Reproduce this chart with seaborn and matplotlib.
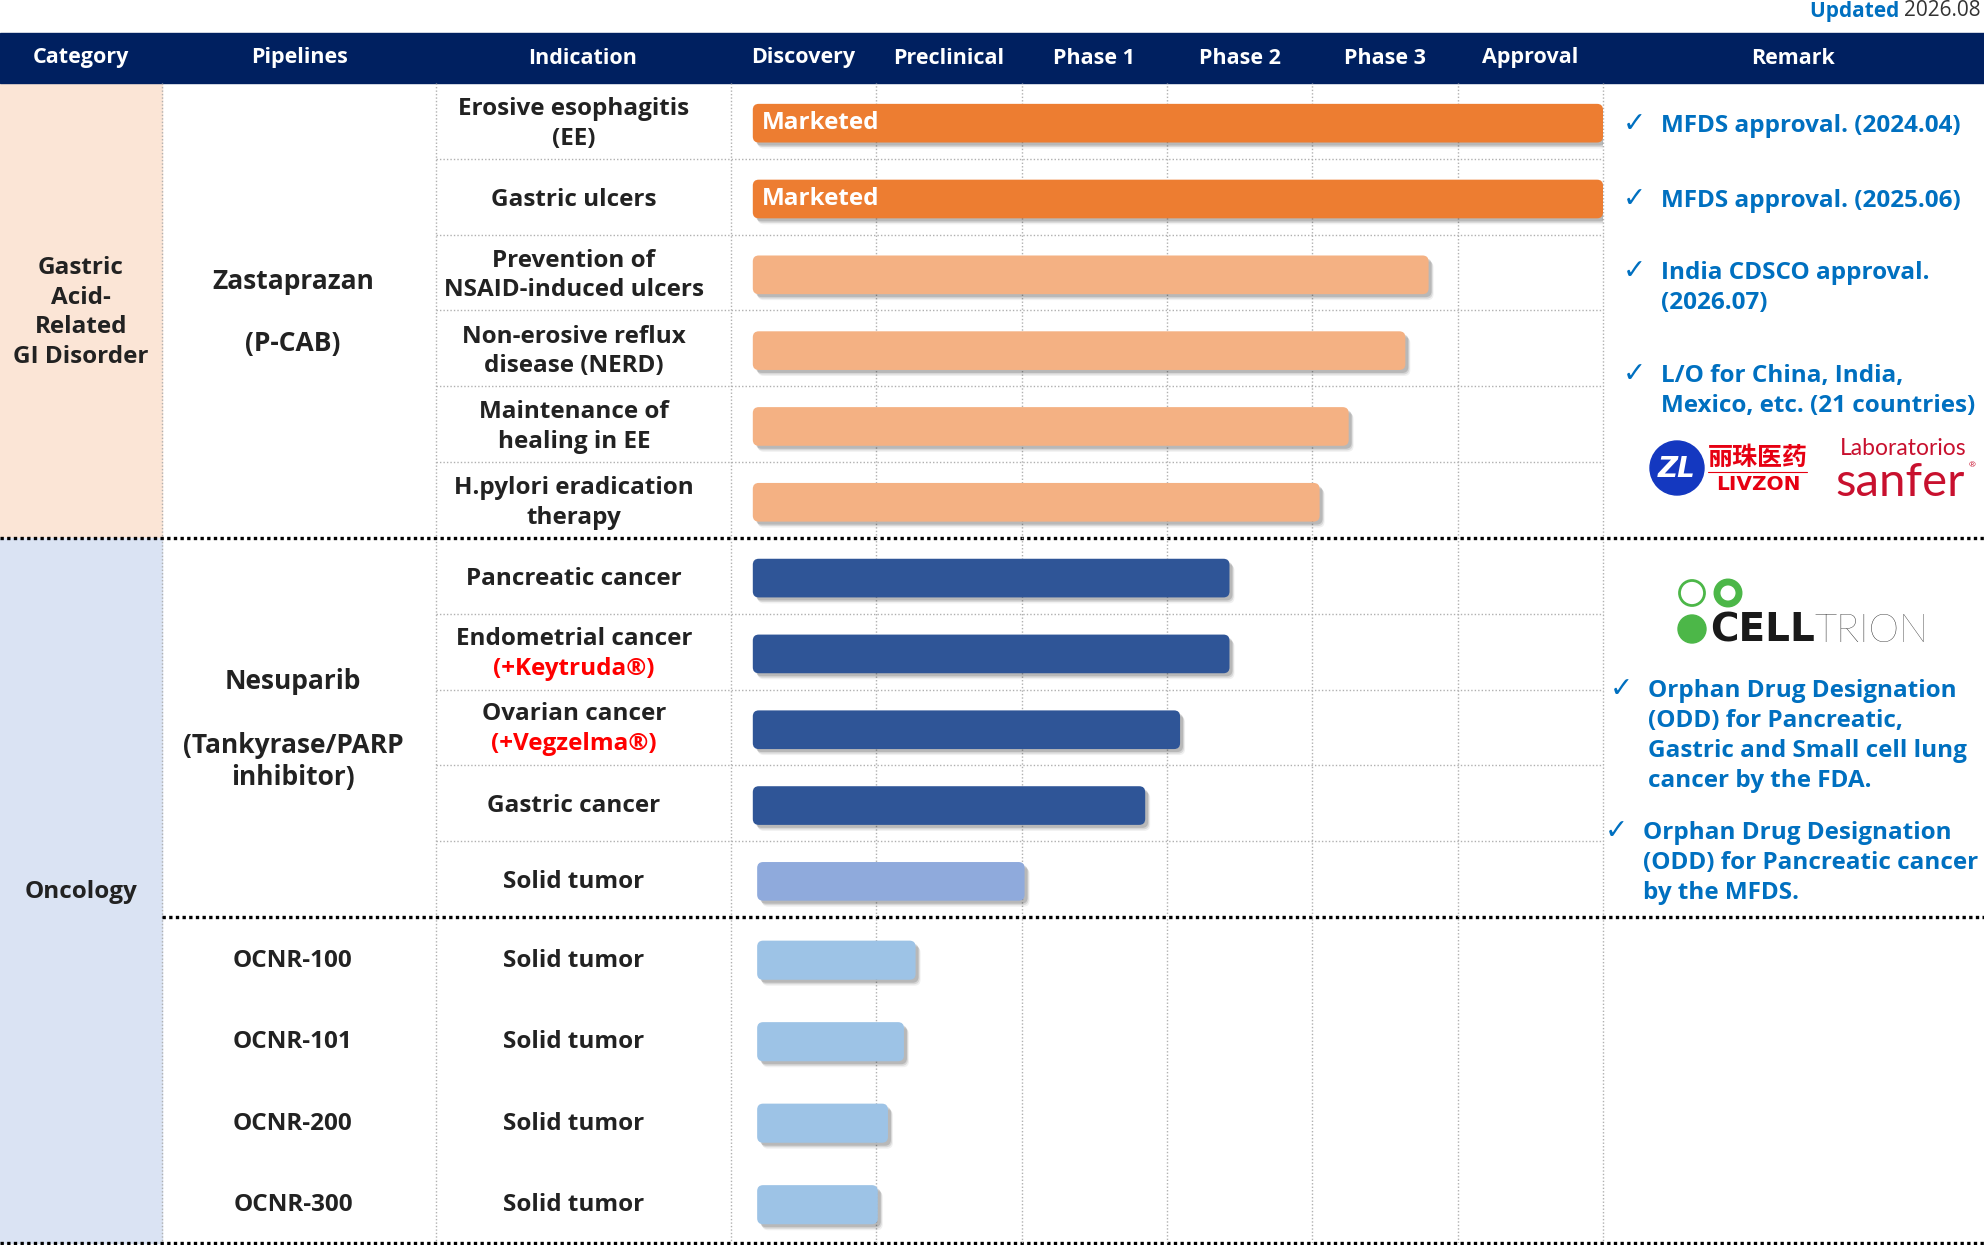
import matplotlib
matplotlib.use("Agg")
import matplotlib.pyplot as plt
import matplotlib.transforms as mtransforms
from matplotlib.patches import FancyBboxPatch, Rectangle, Circle
import seaborn as sns
import pandas as pd

# ---------------- data ----------------
phases = ["Discovery", "Preclinical", "Phase 1", "Phase 2", "Phase 3", "Approval"]

upper_rows = ["EE", "GU", "NSAID", "NERD", "MAINT", "HP", "PANC", "ENDO", "OVAR", "GAST", "SOLID"]
upper_indication = ["Erosive esophagitis\n(EE)", "Gastric ulcers", "Prevention of\nNSAID-induced ulcers",
                    "Non-erosive reflux\ndisease (NERD)", "Maintenance of\nhealing in EE",
                    "H.pylori eradication\ntherapy", "Pancreatic cancer", "Endometrial cancer",
                    "Ovarian cancer", "Gastric cancer", "Solid tumor"]
combo_drug = ["", "", "", "", "", "", "", "(+Keytruda®)", "(+Vegzelma®)", "", ""]
upper_start = [0.15, 0.15, 0.15, 0.15, 0.15, 0.15, 0.15, 0.15, 0.15, 0.15, 0.18]
upper_end = [6.0, 6.0, 4.80, 4.64, 4.25, 4.05, 3.43, 3.43, 3.09, 2.85, 2.02]
upper_color = ["#ED7D31", "#ED7D31", "#F4B183", "#F4B183", "#F4B183", "#F4B183",
               "#2F5597", "#2F5597", "#2F5597", "#2F5597", "#8FAADC"]
upper_note = ["Marketed", "Marketed", "", "", "", "", "", "", "", "", ""]

ocnr_names = ["OCNR-100", "OCNR-101", "OCNR-200", "OCNR-300"]
ocnr_indication = ["Solid tumor", "Solid tumor", "Solid tumor", "Solid tumor"]
ocnr_start = [0.18, 0.18, 0.18, 0.18]
ocnr_end = [1.27, 1.19, 1.08, 1.01]
ocnr_color = "#9DC3E6"

# ---------------- style ----------------
sns.set_theme(style="white")
plt.rcParams['font.family'] = ['Open Sans', 'Noto Sans CJK SC', 'DejaVu Sans']

NAVY = "#002060"
BLUE = "#0070C0"
INK = "#222222"
GRID = "#B0B0B0"
FS = 17.5

W, H = 1984, 1245
X_PIPE, X_IND, X_PH0, X_PH1 = 162, 436, 731, 1603
Y_HEAD0, Y_HEAD1 = 33, 83
Y_SPLIT2, Y_END = 917, 1243
row_h = (Y_SPLIT2 - Y_HEAD1) / len(upper_rows)
Y_SPLIT1 = Y_HEAD1 + 6 * row_h
ocnr_h = (Y_END - Y_SPLIT2) / len(ocnr_names)

fig = plt.figure(figsize=(W / 100, H / 100), dpi=100)
bg = fig.add_axes([0, 0, 1, 1])
bg.set_xlim(0, W)
bg.set_ylim(H, 0)
bg.axis("off")

# header band and category backgrounds
bg.add_patch(Rectangle((0, Y_HEAD0), W, Y_HEAD1 - Y_HEAD0, color=NAVY, zorder=1))
bg.add_patch(Rectangle((0, Y_HEAD1), X_PIPE, Y_SPLIT1 - Y_HEAD1, color="#FBE5D6", zorder=0))
bg.add_patch(Rectangle((0, Y_SPLIT1), X_PIPE, Y_END - Y_SPLIT1, color="#DAE3F3", zorder=0))

head_y = (Y_HEAD0 + Y_HEAD1) / 2
for label, x in [("Category", 81), ("Pipelines", 300), ("Indication", 583), ("Remark", 1793)]:
    bg.text(x, head_y, label, color="white", fontsize=15.5, weight="bold", ha="center", va="center", zorder=2)

# table lines
light = dict(color=GRID, lw=1, ls=(0, (1, 1.5)), zorder=1)
for x in [X_PIPE, X_IND, X_PH0, X_PH1]:
    bg.plot([x, x], [Y_HEAD1, Y_END], **light)
for k in list(range(1, 6)) + list(range(7, 11)):
    y = Y_HEAD1 + k * row_h
    bg.plot([X_IND, X_PH1], [y, y], **light)
heavy = dict(color="black", lw=2.4, ls=(0, (1, 1)), zorder=2)
bg.plot([0, W], [Y_SPLIT1, Y_SPLIT1], **heavy)
bg.plot([X_PIPE, W], [Y_SPLIT2, Y_SPLIT2], **heavy)
bg.plot([0, W], [Y_END, Y_END], **heavy)

# category / pipeline / indication texts
txt = dict(fontsize=FS, weight="bold", color=INK, ha="center", va="center")
bg.text(81, (Y_HEAD1 + Y_SPLIT1) / 2 + 2, "Gastric\nAcid-\nRelated\nGI Disorder", linespacing=1.3, **txt)
bg.text(81, (Y_SPLIT1 + Y_END) / 2 + 2, "Oncology", **txt)
bg.text(293, (Y_HEAD1 + Y_SPLIT1) / 2 + 2, "Zastaprazan\n\n(P-CAB)", linespacing=1.2, **{**txt, "fontsize": 19})
bg.text(293, (Y_SPLIT1 + Y_SPLIT2) / 2 + 2, "Nesuparib\n\n(Tankyrase/PARP\ninhibitor)", linespacing=1.25,
        **{**txt, "fontsize": 19})

for i, label in enumerate(upper_indication):
    yc = Y_HEAD1 + (i + 0.5) * row_h
    if combo_drug[i]:
        bg.text(574, yc - 13, label, **txt)
        bg.text(574, yc + 17, combo_drug[i], **{**txt, "color": "#FF0000"})
    else:
        bg.text(574, yc + 3, label, linespacing=1.3, **txt)

for i, (name, ind) in enumerate(zip(ocnr_names, ocnr_indication)):
    yc = Y_SPLIT2 + (i + 0.5) * ocnr_h
    bg.text(293, yc + 3, name, **txt)
    bg.text(574, yc + 3, ind, **txt)


# ---------------- pipeline bars ----------------
def phase_axes(y_top, y_bot):
    ax = fig.add_axes([X_PH0 / W, 1 - y_bot / H, (X_PH1 - X_PH0) / W, (y_bot - y_top) / H])
    ax.patch.set_alpha(0)
    return ax


def rounded_bars(ax, starts, px_y, notes=None):
    px_x = (X_PH1 - X_PH0) / len(phases)
    r = 6 / px_x
    bars = sorted(ax.patches, key=lambda p: p.get_y())
    for p in bars:
        i = int(round(p.get_y() + p.get_height() / 2))
        x0, x1 = starts[i], p.get_width()
        y0, h = p.get_y() + 0.03, p.get_height()
        color = p.get_facecolor()
        p.remove()
        for dx, dy, a in [(5, -6, 0.06), (4, -4.5, 0.10), (3, -3, 0.14)]:
            sh = FancyBboxPatch((x0, y0), x1 - x0, h, boxstyle=f"round,pad=0,rounding_size={r}",
                                mutation_aspect=px_x / px_y, fc="black", ec="none", alpha=a, zorder=2,
                                transform=mtransforms.offset_copy(ax.transData, fig, x=dx, y=dy, units="dots"))
            ax.add_patch(sh)
        ax.add_patch(FancyBboxPatch((x0, y0), x1 - x0, h, boxstyle=f"round,pad=0,rounding_size={r}",
                                    mutation_aspect=px_x / px_y, fc=color, ec="none", zorder=3))
        if notes and notes[i]:
            ax.text(x0 + 0.06, y0 + h / 2, notes[i], color="white", fontsize=FS, weight="bold",
                    ha="left", va="center", zorder=4)


ax_up = phase_axes(Y_HEAD1, Y_SPLIT2)
df_up = pd.DataFrame({"row": upper_rows, "end": upper_end})
sns.barplot(data=df_up, x="end", y="row", hue="row", palette=dict(zip(upper_rows, upper_color)),
            orient="h", width=0.51, saturation=1, errorbar=None, legend=False, ax=ax_up)
rounded_bars(ax_up, upper_start, row_h, upper_note)

ax_lo = phase_axes(Y_SPLIT2, Y_END)
df_lo = pd.DataFrame({"row": ocnr_names, "end": ocnr_end})
sns.barplot(data=df_lo, x="end", y="row", color=ocnr_color, orient="h", width=0.48,
            saturation=1, errorbar=None, ax=ax_lo)
rounded_bars(ax_lo, ocnr_start, ocnr_h)

for ax, n in [(ax_up, len(upper_rows)), (ax_lo, len(ocnr_names))]:
    ax.set_xlim(0, len(phases))
    ax.set_ylim(n - 0.5, -0.5)
    for x in range(1, len(phases)):
        ax.axvline(x, color=GRID, lw=1, ls=(0, (1, 1.5)), zorder=1)
    ax.axis("off")

# phase headers placed on the phase scale
head_tr = mtransforms.blended_transform_factory(ax_up.transData, bg.transData)
for j, ph in enumerate(phases):
    bg.text(j + 0.5, head_y, ph, transform=head_tr, color="white", fontsize=15.5, weight="bold",
            ha="center", va="center", zorder=2)

# ---------------- remarks ----------------
rm = dict(fontsize=FS, weight="bold", color=BLUE, ha="left", va="center")


def remark(xc, xt, y, lines):
    bg.text(xc, y - 2, "✓", fontsize=20, color=BLUE, ha="left", va="center", family="DejaVu Sans")
    for j, line in enumerate(lines):
        bg.text(xt, y + j * 30, line, **rm)


remark(1623, 1661, 126, ["MFDS approval. (2024.04)"])
remark(1623, 1661, 201, ["MFDS approval. (2025.06)"])
remark(1623, 1661, 273, ["India CDSCO approval.", "(2026.07)"])
remark(1623, 1661, 376, ["L/O for China, India,", "Mexico, etc. (21 countries)"])
remark(1610, 1648, 691, ["Orphan Drug Designation", "(ODD) for Pancreatic,",
                         "Gastric and Small cell lung", "cancer by the FDA."])
remark(1605, 1643, 833, ["Orphan Drug Designation", "(ODD) for Pancreatic cancer", "by the MFDS."])

# partner logos (text approximations)
bg.add_patch(Circle((1677, 468), 27, color="#1438C0", zorder=2))
bg.text(1677, 469, "ZL", color="white", fontsize=20, weight="bold", style="italic",
        ha="center", va="center", zorder=3, family="DejaVu Sans")
bg.text(1758, 458, "丽珠医药", color="#E60012", fontsize=18, weight="bold", ha="center", va="center",
        family="Noto Sans CJK SC")
bg.plot([1708, 1807], [472, 472], color="#E60012", lw=0.8)
bg.text(1758, 484, "LIVZON", color="#E60012", fontsize=14.5, weight="heavy", ha="center", va="center",
        family="DejaVu Sans")
bg.text(1903, 455, "Laboratorios", color="#C8102E", fontsize=16.5, ha="center", va="baseline", family="Lato")
bg.text(1900, 496, "sanfer", color="#C8102E", fontsize=34, ha="center", va="baseline", family="Lato")
bg.text(1972, 466, "®", color="#C8102E", fontsize=6, ha="center", va="center")

GREEN = "#4CB748"
bg.add_patch(Circle((1692, 593), 12.5, fill=False, ec=GREEN, lw=2, zorder=2))
bg.add_patch(Circle((1728, 593), 11, fill=False, ec=GREEN, lw=5, zorder=2))
bg.add_patch(Circle((1692, 629), 14, color=GREEN, zorder=2))
cell = bg.text(1710, 630, "CELL", color="#1A1A1A", fontsize=28, weight="bold", ha="left",
               va="center", family="DejaVu Sans")
bg.annotate("TRION", xy=(1, 0), xycoords=cell, color="#1A1A1A", fontsize=28, weight="light",
            ha="left", va="bottom", family="Lato")

# updated stamp
stamp = bg.text(1981, 11, "2026.08", color="#333333", fontsize=15, ha="right", va="center")
bg.annotate("Updated ", xy=(0, 0), xycoords=stamp, color=BLUE, fontsize=15, weight="bold",
            ha="right", va="bottom")

fig.savefig("out.png", dpi=100)
